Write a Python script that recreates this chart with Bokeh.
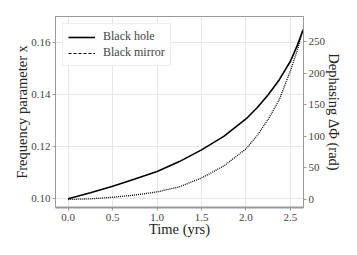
from bokeh.plotting import figure
from bokeh.models import (Range1d, LinearAxis, Legend, LegendItem, FixedTicker,
                          ColumnDataSource, CDSView, IndexFilter)
from bokeh.embed import file_html
from bokeh.resources import INLINE

# Data
time_yrs = [0.0, 0.25, 0.5, 0.75, 1.0, 1.25, 1.5, 1.75, 2.0, 2.125, 2.25, 2.375, 2.5, 2.575, 2.64]
freq_x = [0.1, 0.1023, 0.1048, 0.1076, 0.1105, 0.1143, 0.1188, 0.1240, 0.1307, 0.1350,
          0.1400, 0.1458, 0.1529, 0.1588, 0.1647]
dephasing = [0, 1, 3.5, 7, 12, 20, 34, 53, 80, 101, 127, 158, 204, 235, 269]
x_ticks = [0.0, 0.5, 1.0, 1.5, 2.0, 2.5]
x_tick_labels = ["0.0", "0.5", "1.0", "1.5", "2.0", "2.5"]
left_ticks = [0.10, 0.12, 0.14, 0.16]
left_tick_labels = ["0.10", "0.12", "0.14", "0.16"]
right_ticks = [0, 50, 100, 150, 200, 250]

FONT = "Liberation Serif"
GRAY = "#9a9a9a"

src = ColumnDataSource(dict(t=time_yrs, x=freq_x, d=dephasing))

p = figure(width=353, height=245, output_backend="svg", toolbar_location=None,
           x_range=Range1d(-0.143, 2.647), y_range=Range1d(0.09665, 0.1701),
           min_border_left=55, min_border_right=50, min_border_top=16, min_border_bottom=38)
p.extra_y_ranges = {"dphi": Range1d(-12.7, 289.6)}

p.outline_line_color = GRAY
p.outline_line_width = 1
p.background_fill_color = "white"

p.xgrid.grid_line_color = "#e6e6e6"
p.ygrid.grid_line_color = "#e6e6e6"
p.xgrid.ticker = FixedTicker(ticks=x_ticks)
p.ygrid.ticker = FixedTicker(ticks=left_ticks)

r1 = p.line("t", "x", source=src, line_color="black", line_width=1.6)
r2 = p.line("t", "d", source=src, line_color="black", line_width=1.3, line_dash="1 1",
            y_range_name="dphi")

# legend proxies (a single point: nothing is drawn in the plot, only in the legend)
l1 = p.line("t", "x", source=src, view=CDSView(filter=IndexFilter(indices=[0])),
            line_color="black", line_width=1.6)
l2 = p.line("t", "d", source=src, view=CDSView(filter=IndexFilter(indices=[0])),
            y_range_name="dphi", line_color="black", line_width=1.1, line_dash="3 2")

right_axis = LinearAxis(y_range_name="dphi", axis_label="Dephasing ΔΦ (rad)")
p.add_layout(right_axis, "right")

for ax in [p.xaxis[0], p.yaxis[0], right_axis]:
    ax.axis_line_color = GRAY
    ax.major_tick_line_color = GRAY
    ax.minor_tick_line_color = None
    ax.major_tick_out = 3
    ax.major_tick_in = 0
    ax.major_label_standoff = 3
    ax.axis_label_standoff = 3
    ax.major_label_text_font = FONT
    ax.major_label_text_font_size = "11px"
    ax.major_label_text_color = "#444444"
    ax.axis_label_text_font = FONT
    ax.axis_label_text_font_size = "14.5px"
    ax.axis_label_text_font_style = "normal"
    ax.axis_label_text_color = "#222222"

p.xaxis[0].ticker = FixedTicker(ticks=x_ticks)
p.xaxis[0].major_label_overrides = dict(zip(x_ticks, x_tick_labels))
p.xaxis[0].axis_label = "Time (yrs)"
p.xaxis[0].axis_line_width = 2
p.xaxis[0].axis_label_standoff = -3
p.yaxis[0].ticker = FixedTicker(ticks=left_ticks)
p.yaxis[0].major_label_overrides = dict(zip(left_ticks, left_tick_labels))
p.yaxis[0].axis_label = "Frequency parameter x"
p.yaxis[0].major_label_standoff = 2
p.yaxis[0].axis_label_standoff = -2
right_axis.ticker = FixedTicker(ticks=right_ticks)
right_axis.major_label_standoff = 2
right_axis.axis_label_standoff = -2

legend = Legend(items=[LegendItem(label="Black hole", renderers=[l1]),
                       LegendItem(label="Black mirror", renderers=[l2])],
                location="top_left", margin=7, padding=5, spacing=1,
                glyph_width=27, glyph_height=14, label_standoff=8,
                label_text_font=FONT, label_text_font_size="12px",
                border_line_color="#dddddd", border_line_width=1,
                background_fill_alpha=0.9)
p.add_layout(legend)

open("out.html", "w").write(file_html(p, INLINE))
